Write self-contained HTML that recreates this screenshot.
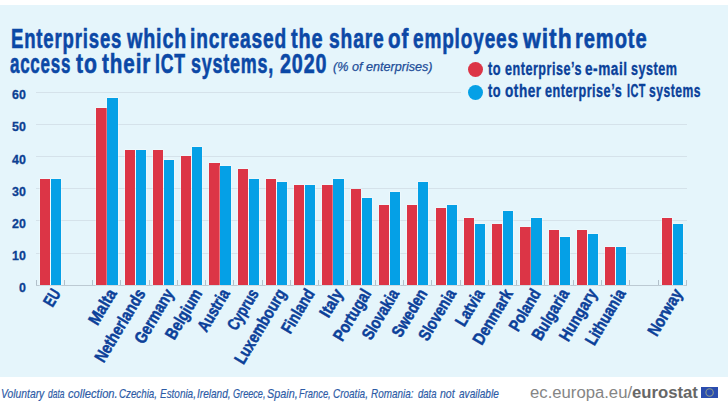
<!DOCTYPE html>
<html><head><meta charset="utf-8">
<style>
html,body{margin:0;padding:0;}
body{width:728px;height:408px;position:relative;overflow:hidden;background:#fff;font-family:"Liberation Sans",sans-serif;}
#bg{position:absolute;left:0;top:5px;width:728px;height:372px;background:#e5f5fb;}
.tt{position:absolute;left:10.4px;color:#0b48a6;font-weight:bold;font-size:27px;line-height:27px;white-space:nowrap;transform-origin:0 0;-webkit-text-stroke:0.6px #0b48a6;letter-spacing:1.2px;}
.sub{position:absolute;left:333px;top:60.3px;color:#214d98;font-style:italic;font-size:13px;line-height:13px;white-space:nowrap;transform-origin:0 0;transform:scaleX(0.97);-webkit-text-stroke:0.25px #214d98;}
.leg{position:absolute;left:488px;color:#0a419a;font-weight:bold;font-size:17.5px;line-height:17.5px;white-space:nowrap;transform-origin:0 0;-webkit-text-stroke:0.35px #0a419a;letter-spacing:0.7px;}
.dot{position:absolute;left:468px;width:15px;height:15px;border-radius:50%;}
.g{position:absolute;left:36px;width:651px;height:1px;background:#d5e2ea;}
.yl{position:absolute;left:0;width:25.8px;text-align:right;font-size:13.5px;font-weight:bold;color:#0c3f92;line-height:13px;-webkit-text-stroke:0.3px #0c3f92;transform-origin:100% 0;transform:scaleX(0.92);}
.ax{position:absolute;left:35.5px;top:284.6px;width:651px;height:1px;background:#bccad3;}
.t{position:absolute;top:280px;width:1px;height:5px;background:#b2c0ca;}
.b{position:absolute;width:10.25px;box-shadow:0 0 0 0.6px rgba(255,255,255,0.5);}
.r{background:#dc3546;}
.bl{background:#05a0e6;}
.xl{position:absolute;width:0;height:0;}
.xl span{position:absolute;right:0;top:-8.5px;white-space:nowrap;font-size:17px;font-weight:bold;color:#0b4099;transform-origin:100% 50%;transform:rotate(-59deg) scaleX(0.85);line-height:17px;-webkit-text-stroke:0.5px #0b4099;}
.foot{position:absolute;top:386.8px;font-style:italic;font-size:13px;line-height:13px;color:#2d5ba6;white-space:nowrap;transform-origin:0 0;-webkit-text-stroke:0.2px #2d5ba6;}
.url{position:absolute;left:530.2px;top:384.9px;font-size:16px;line-height:16px;color:#858585;white-space:nowrap;transform-origin:0 0;transform:scaleX(1.043);}
.url b{color:#676767;}
.flag{position:absolute;left:701px;top:387px;width:17px;height:11px;background:#1d3f94;}
</style></head><body>
<div id="bg"></div>
<div class="tt" style="left:11.01px;top:25.7px;transform:scaleX(0.6874)">Enterprises</div><div class="tt" style="left:127.00px;top:25.7px;transform:scaleX(0.7300)">which</div><div class="tt" style="left:190.48px;top:25.7px;transform:scaleX(0.7091)">increased</div><div class="tt" style="left:290.80px;top:25.7px;transform:scaleX(0.7372)">the</div><div class="tt" style="left:328.89px;top:25.7px;transform:scaleX(0.7133)">share</div><div class="tt" style="left:388.04px;top:25.7px;transform:scaleX(0.7615)">of</div><div class="tt" style="left:413.40px;top:25.7px;transform:scaleX(0.7041)">employees</div><div class="tt" style="left:522.60px;top:25.7px;transform:scaleX(0.8446)">with</div><div class="tt" style="left:575.15px;top:25.7px;transform:scaleX(0.7463)">remote</div>
<div class="tt" style="left:10.37px;top:50.9px;transform:scaleX(0.6277)">access</div><div class="tt" style="left:76.20px;top:50.9px;transform:scaleX(0.7846)">to</div><div class="tt" style="left:101.90px;top:50.9px;transform:scaleX(0.7635)">their</div><div class="tt" style="left:155.00px;top:50.9px;transform:scaleX(0.6523)">ICT</div><div class="tt" style="left:190.84px;top:50.9px;transform:scaleX(0.6639)">systems,</div><div class="tt" style="left:280.47px;top:50.9px;transform:scaleX(0.7306)">2020</div>
<div class="sub">(% of enterprises)</div>
<div class="dot" style="top:62px;background:#dc3546"></div>
<div class="dot" style="top:84.5px;background:#05a0e6"></div>
<div class="leg" style="left:488.40px;top:60.9px;transform:scaleX(0.7294)">to</div><div class="leg" style="left:504.88px;top:60.9px;transform:scaleX(0.7200)">enterprise’s</div><div class="leg" style="left:585.22px;top:60.9px;transform:scaleX(0.7769)">e-mail</div><div class="leg" style="left:630.78px;top:60.9px;transform:scaleX(0.7210)">system</div>
<div class="leg" style="left:488.40px;top:82.6px;transform:scaleX(0.7294)">to</div><div class="leg" style="left:504.82px;top:82.6px;transform:scaleX(0.7761)">other</div><div class="leg" style="left:544.68px;top:82.6px;transform:scaleX(0.7219)">enterprise’s</div><div class="leg" style="left:626.58px;top:82.6px;transform:scaleX(0.6207)">ICT</div><div class="leg" style="left:648.81px;top:82.6px;transform:scaleX(0.6945)">systems</div>
<div class="g" style="top:252.50px;width:651px"></div><div class="g" style="top:220.30px;width:651px"></div><div class="g" style="top:188.10px;width:651px"></div><div class="g" style="top:155.90px;width:651px"></div><div class="g" style="top:123.70px;width:651px"></div><div class="g" style="top:91.50px;width:425px"></div><div class="yl" style="top:281.40px">0</div><div class="yl" style="top:249.20px">10</div><div class="yl" style="top:217.00px">20</div><div class="yl" style="top:184.80px">30</div><div class="yl" style="top:152.60px">40</div><div class="yl" style="top:120.40px">50</div><div class="yl" style="top:88.20px">60</div>
<div class="ax"></div>
<div class="t" style="left:35.60px"></div><div class="t" style="left:63.87px"></div><div class="t" style="left:92.14px"></div><div class="t" style="left:120.41px"></div><div class="t" style="left:148.68px"></div><div class="t" style="left:176.95px"></div><div class="t" style="left:205.22px"></div><div class="t" style="left:233.49px"></div><div class="t" style="left:261.76px"></div><div class="t" style="left:290.03px"></div><div class="t" style="left:318.30px"></div><div class="t" style="left:346.57px"></div><div class="t" style="left:374.83px"></div><div class="t" style="left:403.10px"></div><div class="t" style="left:431.37px"></div><div class="t" style="left:459.64px"></div><div class="t" style="left:487.91px"></div><div class="t" style="left:516.18px"></div><div class="t" style="left:544.45px"></div><div class="t" style="left:572.72px"></div><div class="t" style="left:600.99px"></div><div class="t" style="left:629.26px"></div><div class="t" style="left:657.53px"></div><div class="t" style="left:685.80px"></div>
<div class="b r" style="left:39.73px;top:178.94px;height:106.26px"></div><div class="b bl" style="left:50.73px;top:178.94px;height:106.26px"></div><div class="b r" style="left:96.27px;top:108.10px;height:177.10px"></div><div class="b bl" style="left:107.27px;top:98.44px;height:186.76px"></div><div class="b r" style="left:124.54px;top:149.96px;height:135.24px"></div><div class="b bl" style="left:135.54px;top:149.96px;height:135.24px"></div><div class="b r" style="left:152.81px;top:149.96px;height:135.24px"></div><div class="b bl" style="left:163.81px;top:159.62px;height:125.58px"></div><div class="b r" style="left:181.08px;top:156.40px;height:128.80px"></div><div class="b bl" style="left:192.08px;top:146.74px;height:138.46px"></div><div class="b r" style="left:209.35px;top:162.84px;height:122.36px"></div><div class="b bl" style="left:220.35px;top:166.06px;height:119.14px"></div><div class="b r" style="left:237.62px;top:169.28px;height:115.92px"></div><div class="b bl" style="left:248.62px;top:178.94px;height:106.26px"></div><div class="b r" style="left:265.89px;top:178.94px;height:106.26px"></div><div class="b bl" style="left:276.89px;top:182.16px;height:103.04px"></div><div class="b r" style="left:294.16px;top:185.38px;height:99.82px"></div><div class="b bl" style="left:305.16px;top:185.38px;height:99.82px"></div><div class="b r" style="left:322.43px;top:185.38px;height:99.82px"></div><div class="b bl" style="left:333.43px;top:178.94px;height:106.26px"></div><div class="b r" style="left:350.70px;top:188.60px;height:96.60px"></div><div class="b bl" style="left:361.70px;top:198.26px;height:86.94px"></div><div class="b r" style="left:378.97px;top:204.70px;height:80.50px"></div><div class="b bl" style="left:389.97px;top:191.82px;height:93.38px"></div><div class="b r" style="left:407.24px;top:204.70px;height:80.50px"></div><div class="b bl" style="left:418.24px;top:182.16px;height:103.04px"></div><div class="b r" style="left:435.51px;top:207.92px;height:77.28px"></div><div class="b bl" style="left:446.51px;top:204.70px;height:80.50px"></div><div class="b r" style="left:463.78px;top:217.58px;height:67.62px"></div><div class="b bl" style="left:474.78px;top:224.02px;height:61.18px"></div><div class="b r" style="left:492.05px;top:224.02px;height:61.18px"></div><div class="b bl" style="left:503.05px;top:211.14px;height:74.06px"></div><div class="b r" style="left:520.32px;top:227.24px;height:57.96px"></div><div class="b bl" style="left:531.32px;top:217.58px;height:67.62px"></div><div class="b r" style="left:548.59px;top:230.46px;height:54.74px"></div><div class="b bl" style="left:559.59px;top:236.90px;height:48.30px"></div><div class="b r" style="left:576.86px;top:230.46px;height:54.74px"></div><div class="b bl" style="left:587.86px;top:233.68px;height:51.52px"></div><div class="b r" style="left:605.13px;top:246.56px;height:38.64px"></div><div class="b bl" style="left:616.13px;top:246.56px;height:38.64px"></div><div class="b r" style="left:661.67px;top:217.58px;height:67.62px"></div><div class="b bl" style="left:672.67px;top:224.02px;height:61.18px"></div>
<div class="xl" style="left:56.23px;top:290.70px"><span style="transform:rotate(-59deg) scaleX(0.72)">EU</span></div><div class="xl" style="left:112.77px;top:290.70px"><span style="transform:rotate(-59deg) scaleX(0.8826)">Malta</span></div><div class="xl" style="left:141.04px;top:290.70px"><span style="transform:rotate(-59deg) scaleX(0.8345)">Netherlands</span></div><div class="xl" style="left:169.31px;top:290.70px"><span style="transform:rotate(-59deg) scaleX(0.8169)">Germany</span></div><div class="xl" style="left:197.58px;top:290.70px"><span style="transform:rotate(-59deg) scaleX(0.8239)">Belgium</span></div><div class="xl" style="left:225.85px;top:290.70px"><span style="transform:rotate(-59deg) scaleX(0.7887)">Austria</span></div><div class="xl" style="left:254.12px;top:290.70px"><span style="transform:rotate(-59deg) scaleX(0.76)">Cyprus</span></div><div class="xl" style="left:282.39px;top:290.70px"><span style="transform:rotate(-59deg) scaleX(0.8137)">Luxembourg</span></div><div class="xl" style="left:310.66px;top:290.70px"><span style="transform:rotate(-59deg) scaleX(0.8014)">Finland</span></div><div class="xl" style="left:338.93px;top:290.70px"><span style="transform:rotate(-59deg) scaleX(0.8672)">Italy</span></div><div class="xl" style="left:367.20px;top:290.70px"><span style="transform:rotate(-59deg) scaleX(0.8297)">Portugal</span></div><div class="xl" style="left:395.47px;top:290.70px"><span style="transform:rotate(-59deg) scaleX(0.8077)">Slovakia</span></div><div class="xl" style="left:423.74px;top:290.70px"><span style="transform:rotate(-59deg) scaleX(0.819)">Sweden</span></div><div class="xl" style="left:452.01px;top:290.70px"><span style="transform:rotate(-59deg) scaleX(0.8117)">Slovenia</span></div><div class="xl" style="left:480.28px;top:290.70px"><span style="transform:rotate(-59deg) scaleX(0.8095)">Latvia</span></div><div class="xl" style="left:508.55px;top:290.70px"><span style="transform:rotate(-59deg) scaleX(0.8436)">Denmark</span></div><div class="xl" style="left:536.82px;top:290.70px"><span style="transform:rotate(-59deg) scaleX(0.805)">Poland</span></div><div class="xl" style="left:565.09px;top:290.70px"><span style="transform:rotate(-59deg) scaleX(0.8277)">Bulgaria</span></div><div class="xl" style="left:593.36px;top:290.70px"><span style="transform:rotate(-59deg) scaleX(0.8297)">Hungary</span></div><div class="xl" style="left:621.63px;top:290.70px"><span style="transform:rotate(-59deg) scaleX(0.8224)">Lithuania</span></div><div class="xl" style="left:678.17px;top:290.70px"><span style="transform:rotate(-59deg) scaleX(0.8347)">Norway</span></div>
<div class="foot" style="left:0.91px;transform:scaleX(0.7944)">Voluntary</div><div class="foot" style="left:48.10px;transform:scaleX(0.6520)">data</div><div class="foot" style="left:67.80px;transform:scaleX(0.8589)">collection.</div><div class="foot" style="left:119.45px;transform:scaleX(0.7500)">Czechia,</div><div class="foot" style="left:159.60px;transform:scaleX(0.7644)">Estonia,</div><div class="foot" style="left:196.62px;transform:scaleX(0.7756)">Ireland,</div><div class="foot" style="left:232.70px;transform:scaleX(0.7023)">Greece,</div><div class="foot" style="left:266.97px;transform:scaleX(0.8324)">Spain,</div><div class="foot" style="left:298.70px;transform:scaleX(0.7186)">France,</div><div class="foot" style="left:333.13px;transform:scaleX(0.7674)">Croatia,</div><div class="foot" style="left:371.00px;transform:scaleX(0.7618)">Romania:</div><div class="foot" style="left:417.50px;transform:scaleX(0.7320)">data</div><div class="foot" style="left:440.10px;transform:scaleX(0.8105)">not</div><div class="foot" style="left:459.00px;transform:scaleX(0.7745)">available</div>
<div class="url">ec.europa.eu/<b>eurostat</b></div>
<svg style="position:absolute;left:701px;top:386.7px" width="17" height="11" viewBox="0 0 17 11"><rect width="17" height="11" fill="#2a4cae"/><circle cx="8.6" cy="5.5" r="3.7" fill="none" stroke="#8e9c8c" stroke-width="1.1"/></svg>
</body></html>
